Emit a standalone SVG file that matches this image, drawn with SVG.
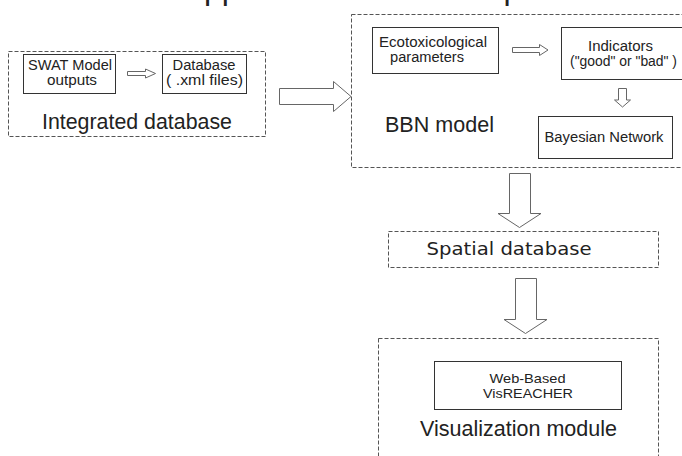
<svg xmlns="http://www.w3.org/2000/svg" width="682" height="456" viewBox="0 0 682 456">
  <style>
    text { font-family: "Liberation Sans", Arial, sans-serif; fill: #222; }
    .group { fill: none; stroke: #555; stroke-width: 1; stroke-dasharray: 4 2; }
    .box { fill: #fff; stroke: #333; stroke-width: 1; }
    .arrow { fill: #fff; stroke: #666; stroke-width: 1; stroke-linejoin: miter; }
    .small { font-size: 14px; }
    .tiny { font-size: 13px; }
    .big { font-size: 21.5px; }
    .wide { font-family: "DejaVu Sans", Verdana, sans-serif; font-size: 17px; }
  </style>
  <rect width="682" height="456" fill="#fff"/>

  <!-- heading running off the top edge -->
  <g id="heading">
    <text x="204" y="-1" font-size="32" fill="#000">pp</text>
    <text x="503.5" y="-1" font-size="32" fill="#000">p</text>
  </g>

  <!-- Integrated database -->
  <g id="integrated-database">
    <rect class="group" x="8.5" y="51.5" width="257" height="85"/>
    <text class="big" x="137" y="129" text-anchor="middle" textLength="190" lengthAdjust="spacingAndGlyphs">Integrated database</text>
  </g>
  <g id="swat-outputs">
    <rect class="box" x="23.5" y="54.5" width="92" height="39"/>
    <text class="small" x="70" y="70" text-anchor="middle" textLength="84" lengthAdjust="spacingAndGlyphs">SWAT Model</text>
    <text class="small" x="72" y="85" text-anchor="middle" textLength="50" lengthAdjust="spacingAndGlyphs">outputs</text>
  </g>
  <g id="xml-database">
    <rect class="box" x="162.5" y="54.5" width="84" height="39"/>
    <text class="small" x="204" y="70" text-anchor="middle" textLength="63" lengthAdjust="spacingAndGlyphs">Database</text>
    <text class="small" x="204.5" y="85" text-anchor="middle" textLength="77" lengthAdjust="spacingAndGlyphs">( .xml files)</text>
  </g>

  <!-- BBN model -->
  <g id="bbn-model">
    <rect class="group" x="351.5" y="14.5" width="340" height="153"/>
    <text class="big" x="439.5" y="132" text-anchor="middle" textLength="109" lengthAdjust="spacingAndGlyphs">BBN model</text>
  </g>
  <g id="ecotox-parameters">
    <rect class="box" x="372.5" y="27.5" width="126" height="46"/>
    <text class="small" x="433" y="47" text-anchor="middle" textLength="108" lengthAdjust="spacingAndGlyphs">Ecotoxicological</text>
    <text class="small" x="427" y="62" text-anchor="middle" textLength="74" lengthAdjust="spacingAndGlyphs">parameters</text>
  </g>
  <g id="indicators">
    <rect class="box" x="561.5" y="27.5" width="130" height="52"/>
    <text class="small" x="620.5" y="51" text-anchor="middle" textLength="65" lengthAdjust="spacingAndGlyphs">Indicators</text>
    <text class="small" x="623.5" y="66" text-anchor="middle" textLength="107" lengthAdjust="spacingAndGlyphs">("good" or "bad" )</text>
  </g>
  <g id="bayesian-network">
    <rect class="box" x="538.5" y="116.5" width="134" height="42"/>
    <text class="small" x="604" y="142" text-anchor="middle" textLength="119" lengthAdjust="spacingAndGlyphs">Bayesian Network</text>
  </g>

  <!-- Spatial database -->
  <g id="spatial-database">
    <rect class="group" x="388.5" y="231.5" width="270" height="36"/>
    <text class="wide" x="509" y="255" text-anchor="middle" textLength="165" lengthAdjust="spacingAndGlyphs">Spatial database</text>
  </g>

  <!-- Visualization module -->
  <g id="visualization-module">
    <rect class="group" x="378.5" y="338.5" width="280" height="130"/>
    <text class="big" x="518.5" y="436" text-anchor="middle" textLength="197" lengthAdjust="spacingAndGlyphs">Visualization module</text>
  </g>
  <g id="visreacher">
    <rect class="box" x="434.5" y="361.5" width="187" height="48"/>
    <text class="tiny" x="527.5" y="383" text-anchor="middle" textLength="76" lengthAdjust="spacingAndGlyphs">Web-Based</text>
    <text class="tiny" x="528" y="397.5" text-anchor="middle" textLength="90" lengthAdjust="spacingAndGlyphs">VisREACHER</text>
  </g>

  <!-- block arrows between the stages -->
  <g id="connectors">
    <polygon class="arrow" points="127.5,71.5 145.5,71.5 145.5,69 155.5,73.5 145.5,78 145.5,75.5 127.5,75.5"/>
    <polygon class="arrow" points="512.5,47.5 539.5,47.5 539.5,44.5 548,50 539.5,55.5 539.5,52.5 512.5,52.5"/>
    <polygon class="arrow" points="618.5,88.5 626.5,88.5 626.5,100 630.5,100 622.5,107 614.5,100 618.5,100"/>
    <polygon class="arrow" points="279.5,88.5 333.5,88.5 333.5,81.5 351,96.5 333.5,111.5 333.5,104.5 279.5,104.5"/>
    <polygon class="arrow" points="509.5,173.5 530.5,173.5 530.5,213.5 541,213.5 519.5,227.5 498,213.5 509.5,213.5"/>
    <polygon class="arrow" points="515.5,278.5 536.5,278.5 536.5,319.5 547,319.5 525.5,333.5 504,319.5 515.5,319.5"/>
  </g>
</svg>
